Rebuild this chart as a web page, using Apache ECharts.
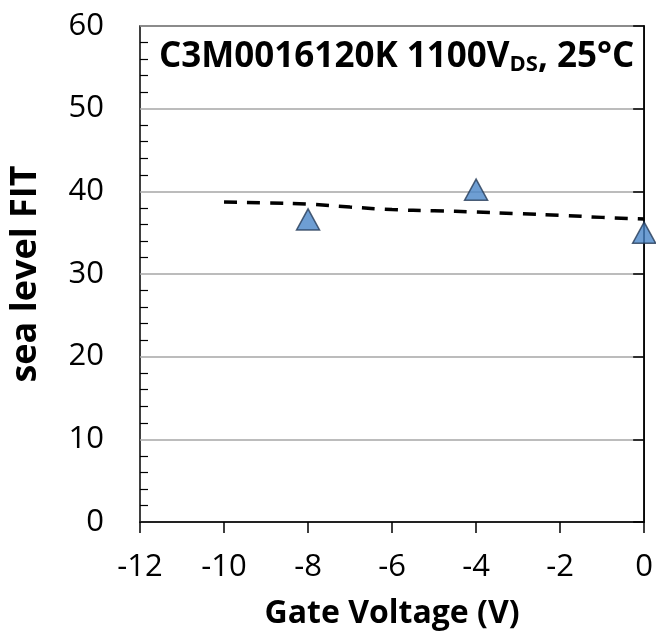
<!DOCTYPE html>
<html>
<head>
<meta charset="utf-8">
<script src="https://cdn.jsdelivr.net/npm/echarts@6/dist/echarts.min.js"></script>
<style>
  html, body { margin: 0; padding: 0; background: #fff; }
  #chart { width: 656px; height: 637px; }
</style>
</head>
<body>
<div id="chart"></div>
<script>
// measured points (gate voltage, FIT)
const gateVoltage = [-8, -4, 0];
const seaLevelFit = [36.6, 40.2, 35.0];

// dashed trend line
const trendVoltage = [-10, -9, -8, -7, -6, -5, -4, -3, -2, -1, 0];
const trendFit = [38.7, 38.6, 38.45, 38.1, 37.8, 37.65, 37.5, 37.3, 37.1, 36.85, 36.65];

const xTicks = { min: -12, max: 0, step: 2 };
const yTicks = { min: 0, max: 60, step: 10 };

const chart = echarts.init(document.getElementById("chart"));

const font = "'Open Sans', sans-serif";

const option = {
  animation: false,
  backgroundColor: "#fff",
  title: {
    text: "{a|C3M0016120K 1100V}{s|DS}{a|, 25°C}",
    left: 154,
    top: 34,
    textStyle: {
      rich: {
        a: { fontFamily: font, fontWeight: "bold", fontSize: 35, color: "#000" },
        s: { fontFamily: font, fontWeight: "bold", fontSize: 22, color: "#000", verticalAlign: "bottom", padding: [15, 0, 0, 0] },
      },
    },
  },
  grid: {
    left: 138,
    right: 10,
    top: 26,
    bottom: 115,
    show: true,
    borderColor: "#000",
    borderWidth: 1.5,
  },
  xAxis: {
    type: "value",
    min: xTicks.min,
    max: xTicks.max,
    interval: xTicks.step,
    name: "Gate Voltage (V)",
    nameLocation: "middle",
    nameGap: 76,
    nameTextStyle: { fontFamily: font, fontWeight: "bold", fontSize: 32, color: "#000" },
    axisLine: { onZero: false, lineStyle: { color: "#000", width: 1.5 } },
    axisTick: { show: true, length: 11, lineStyle: { color: "#000", width: 1.5 } },
    axisLabel: { fontFamily: font, fontSize: 31, color: "#000", margin: 30 },
    splitLine: { show: false },
  },
  yAxis: [
    {
      type: "value",
      min: yTicks.min,
      max: yTicks.max,
      interval: yTicks.step,
      name: "sea level FIT",
      nameLocation: "middle",
      nameGap: 96,
      nameTextStyle: { fontFamily: font, fontWeight: "bold", fontSize: 36, color: "#000" },
      axisLine: { show: true, lineStyle: { color: "#000", width: 1.5 } },
      axisTick: { show: true, length: 11, lineStyle: { color: "#000", width: 1.5 } },
      axisLabel: { fontFamily: font, fontSize: 31, color: "#000", margin: 36 },
      splitLine: { show: true, lineStyle: { color: "#a6a6a6", width: 1.5 } },
    },
    {
      type: "value",
      position: "left",
      min: yTicks.min,
      max: yTicks.max,
      interval: yTicks.step,
      axisLine: { show: false },
      axisLabel: { show: false },
      splitLine: { show: false },
      axisTick: { show: false, inside: true },
      minorTick: { show: true, splitNumber: 5, length: 8, lineStyle: { color: "#000", width: 1.2 } },
    },
  ],
  series: [
    {
      type: "line",
      data: trendVoltage.map((v, i) => [v, trendFit[i]]),
      symbol: "none",
      smooth: true,
      lineStyle: { color: "#000", width: 3.5, type: [13, 10] },
      z: 2,
    },
    {
      type: "scatter",
      data: gateVoltage.map((v, i) => [v, seaLevelFit[i]]),
      symbol: "triangle",
      symbolSize: [23, 21],
      itemStyle: { color: "#4a86c8", borderColor: "#243a56", borderWidth: 1.5 },
      z: 3,
    },
  ],
};

chart.setOption(option);
</script>
</body>
</html>
